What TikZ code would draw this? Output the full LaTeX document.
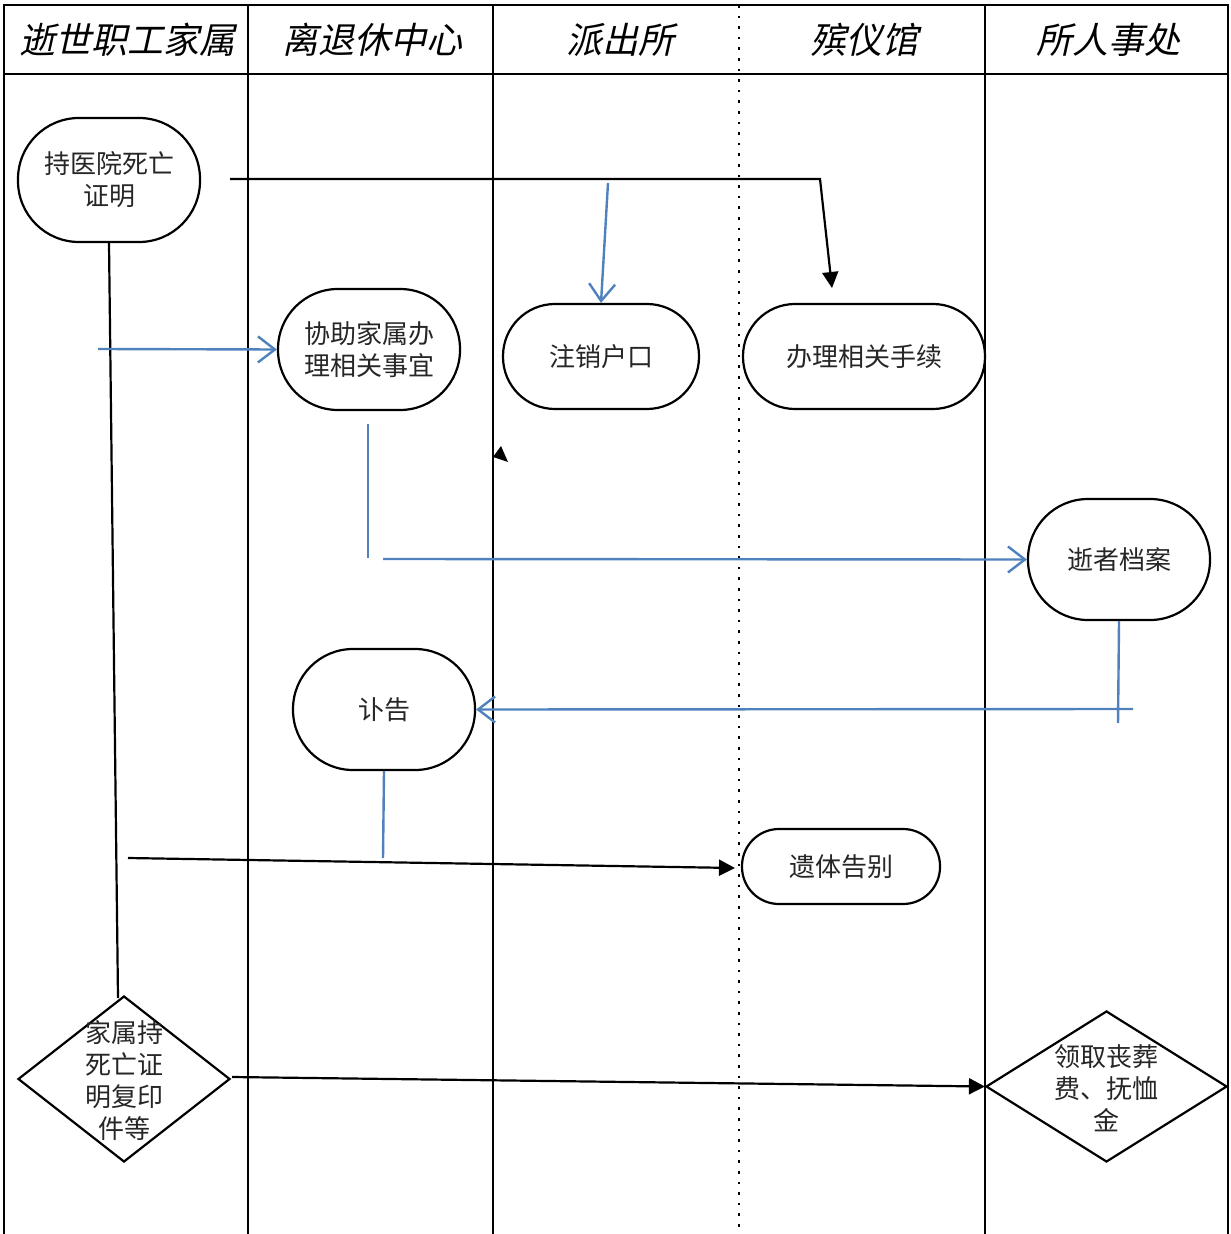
\documentclass[tikz,border=0pt]{standalone}
\usepackage{fontspec}
\setmainfont{Noto Sans CJK SC}
\newfontfamily\hdfont[FakeSlant=0.22]{Noto Sans CJK SC}
\usetikzlibrary{shapes.geometric,arrows.meta}
\definecolor{flowblue}{HTML}{4F81BD}
\definecolor{txtgray}{HTML}{262626}
\tikzset{
  frameline/.style={line width=1.2pt, black},
  dotline/.style={line width=1.4pt, black, dash pattern=on 1.3pt off 4pt},
  stad/.style n args={3}{draw, line width=1.1pt, rounded corners=#3,
     minimum width=#1, minimum height=#2, inner sep=0pt, align=center,
     text=txtgray, font=\fontsize{13pt}{16pt}\selectfont},
  dia/.style 2 args={draw, diamond, line width=1.1pt, minimum width=#1,
     minimum height=#2, inner sep=0pt},
  diatext/.style={align=center, inner sep=0pt, text=txtgray,
     font=\fontsize{13pt}{16pt}\selectfont},
  head/.style={font=\hdfont\fontsize{18pt}{20pt}\selectfont, inner sep=0pt},
  bluel/.style={draw=flowblue, line width=1.2pt},
  bluearr/.style={bluel, -{Straight Barb[length=8.5pt,width=13pt,line width=1.2pt]}},
  blackl/.style={draw=black, line width=1.1pt},
  blackarr/.style={blackl, -{Triangle[length=8pt,width=8pt]}},
}
\begin{document}
\begin{tikzpicture}[x=0.5pt,y=-0.5pt]
\useasboundingbox (0,0) rectangle (1230,1234);
% frame
\draw[frameline] (3,5) -- (1229,5);
\draw[frameline] (3,74) -- (1229,74);
\draw[frameline] (4,5) -- (4,1234);
\draw[frameline] (1228,5) -- (1228,1234);
\draw[frameline] (248,5) -- (248,1234);
\draw[frameline] (493,5) -- (493,1234);
\draw[frameline] (985,5) -- (985,1234);
\draw[dotline] (739,5) -- (739,1234);
% headers
\node[head] (h1) at (127,40) {逝世职工家属};
\node[head] (h2) at (372,40) {离退休中心};
\node[head] (h3) at (620,40) {派出所};
\node[head] (h4) at (864,40) {殡仪馆};
\node[head] (h5) at (1108,40) {所人事处};
% nodes
\node[stad={91pt}{62pt}{30.5pt}] (n1) at (109,180) {持医院死亡\\证明};
\node[stad={91pt}{60.5pt}{30pt}] (n2) at (369,349.5) {协助家属办\\理相关事宜};
\node[stad={98pt}{52.5pt}{26pt}] (n3) at (601,356.5) {注销户口};
\node[stad={121pt}{52.5pt}{26pt}] (n4) at (864,356.5) {办理相关手续};
\node[stad={91pt}{60.5pt}{30pt}] (n5) at (1119,559.5) {逝者档案};
\node[stad={91pt}{60.5pt}{30pt}] (n6) at (384,709.5) {讣告};
\node[stad={99pt}{37.5pt}{18.5pt}] (n7) at (841,866.5) {遗体告别};
\node[dia={106pt}{83pt}] (d1) at (124,1079) {};
\node[diatext] (d1t) at (124,1081) {家属持\\死亡证\\明复印\\件等};
\node[dia={120.5pt}{75.5pt}] (d2) at (1106.5,1086.5) {};
\node[diatext] (d2t) at (1106,1088) {领取丧葬\\费、抚恤\\金};
% free-end coordinates
\coordinate (a1) at (230,179);
\coordinate (a2) at (820,179);
\coordinate (a3) at (832,288);
\coordinate (b1) at (608,183);
\coordinate (b2) at (98,349);
\coordinate (c1) at (368,424);
\coordinate (c2) at (368,558);
\coordinate (c3) at (383,559);
\coordinate (e1) at (1118,723);
\coordinate (e2) at (1133,709);
\coordinate (f1) at (383,858);
\coordinate (g1) at (128,858);
\coordinate (g2) at (735,868);
\coordinate (k1) at (118,998);
\coordinate (m1) at (232,1077);
% connectors
\draw[blackl] (n1.south) -- (k1);
\draw[blackarr] (a1) -- (a2) -- (a3);
\draw[bluearr] (b1) -- (n3.north);
\draw[bluearr] (b2) -- (n2.west);
\draw[bluel] (c1) -- (c2);
\draw[bluearr] (c3) -- (n5.west);
\draw[bluel] (n5.south) -- (e1);
\draw[bluearr] (e2) -- (n6.east);
\draw[bluel] (n6.south) -- (f1);
\draw[blackarr] (g1) -- (g2);
\draw[blackarr] (m1) -- (d2.west);
% stray arrowhead
\fill (501,446) -- (493,457) -- (508,462) -- cycle;
\end{tikzpicture}
\end{document}
